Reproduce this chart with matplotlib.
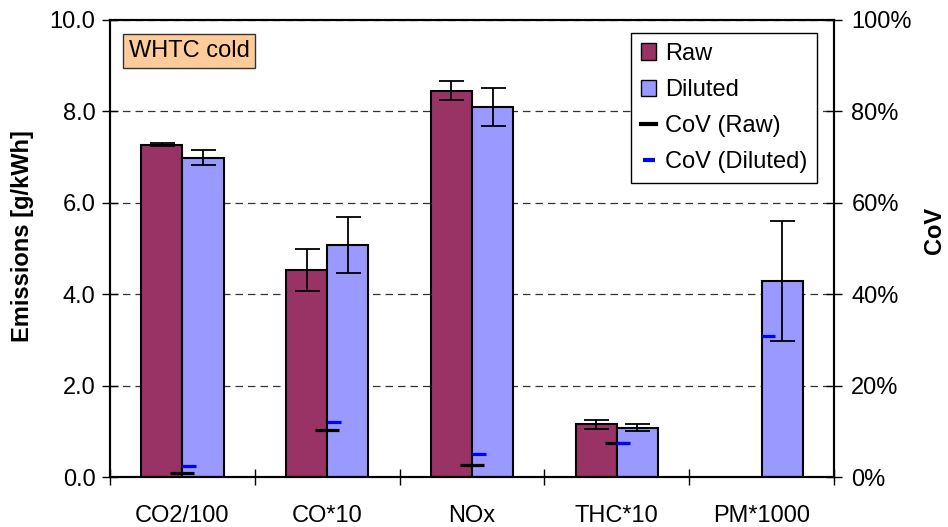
import numpy as np
from matplotlib import pyplot as plt
from matplotlib.lines import Line2D
from matplotlib.patches import Patch

plt.rcParams['font.family'] = ['Liberation Sans', 'DejaVu Sans']

categories = ['CO2/100', 'CO*10', 'NOx', 'THC*10', 'PM*1000']
raw = [7.27, 4.54, 8.45, 1.15, np.nan]
rawErr = [0.03, 0.46, 0.21, 0.09, np.nan]
diluted = [6.99, 5.07, 8.10, 1.08, 4.29]
dilutedErr = [0.16, 0.61, 0.41, 0.07, 1.32]
covRaw = [0.9, 10.3, 2.6, 7.5, np.nan]
covDiluted = [2.3, 12.0, 5.0, 7.5, 30.9]

rawColor = '#993366'
dilColor = '#9999FF'
fs = 17

fig = plt.figure(figsize=(9.48, 5.27), dpi=100)
ax = fig.add_axes([110/948, 1-477/527, 724/948, 457/527])
ax2 = ax.twinx()

x = np.arange(len(categories))
w = 0.284

ax.bar(x - w/2, raw, w, color=rawColor, edgecolor='black', linewidth=1.5, zorder=2)
ax.bar(x + w/2, diluted, w, color=dilColor, edgecolor='black', linewidth=1.5, zorder=2)
ax.errorbar(x - w/2, raw, yerr=rawErr, fmt='none', ecolor='black', elinewidth=1.3,
            capsize=9, capthick=1.3, zorder=3)
ax.errorbar(x + w/2, diluted, yerr=dilutedErr, fmt='none', ecolor='black', elinewidth=1.3,
            capsize=9, capthick=1.3, zorder=3)

ax.set_xlim(-0.5, len(categories) - 0.5)
ax.set_ylim(0, 10)
ax.set_yticks(np.arange(0, 10.1, 2))
ax.set_yticklabels(['%.1f' % v for v in np.arange(0, 10.1, 2)])
ax.set_xticks(x)
ax.set_xticklabels(categories)
ax.set_xticks(np.arange(-0.5, len(categories)), minor=True)
ax.tick_params(axis='x', which='major', length=0, pad=20, labelsize=fs)
ax.tick_params(axis='x', which='minor', direction='inout', length=12, width=1)
ax.tick_params(axis='y', direction='inout', length=11, width=1, pad=5, labelsize=fs)
ax.set_axisbelow(True)
ax.yaxis.grid(True, linestyle=(0, (6, 4)), color='#333333', linewidth=0.9)
for s in ax.spines.values():
    s.set_linewidth(1.5)
ax.set_ylabel('Emissions [g/kWh]', fontsize=fs, fontweight='bold')
ax.yaxis.set_label_coords(-0.105, 0.528)

# CoV markers on secondary axis
ax2.plot(x, covRaw, linestyle='none', marker='_', markersize=17, mew=2.3, color='black')
ax2.plot(x + 0.045, covDiluted, linestyle='none', marker='_', markersize=9.5, mew=2.3, color='#0000FF')
ax2.set_ylim(0, 100)
ax2.set_yticks(np.arange(0, 101, 20))
ax2.set_yticklabels(['%d%%' % v for v in np.arange(0, 101, 20)])
ax2.tick_params(axis='y', direction='inout', length=11, width=1, pad=7, labelsize=fs)
for s in ax2.spines.values():
    s.set_linewidth(1.5)
ax2.set_ylabel('CoV', fontsize=fs, fontweight='bold')
ax2.yaxis.set_label_coords(1.123, 0.54)

ax.text(0.0257, 0.956, 'WHTC cold', transform=ax.transAxes, fontsize=fs, ha='left', va='top',
        bbox=dict(boxstyle='square,pad=0.25', facecolor='#FFCC99', edgecolor='#333333', linewidth=1))

handles = [Patch(facecolor=rawColor, edgecolor='black'),
           Patch(facecolor=dilColor, edgecolor='black'),
           Line2D([], [], color='black', linewidth=3),
           Line2D([], [], linestyle='none', marker='_', markersize=8, mew=3, color='#0000FF')]
leg = ax2.legend(handles, ['Raw', 'Diluted', 'CoV (Raw)', 'CoV (Diluted)'], loc='upper right',
                 bbox_to_anchor=(0.9765, 0.9716), borderaxespad=0, fancybox=False, framealpha=1,
                 edgecolor='black', fontsize=fs, handlelength=0.65, handleheight=0.7,
                 handletextpad=0.35, labelspacing=0.6, borderpad=0.42)
leg.get_frame().set_linewidth(1)

plt.savefig('out.png', dpi=100)
